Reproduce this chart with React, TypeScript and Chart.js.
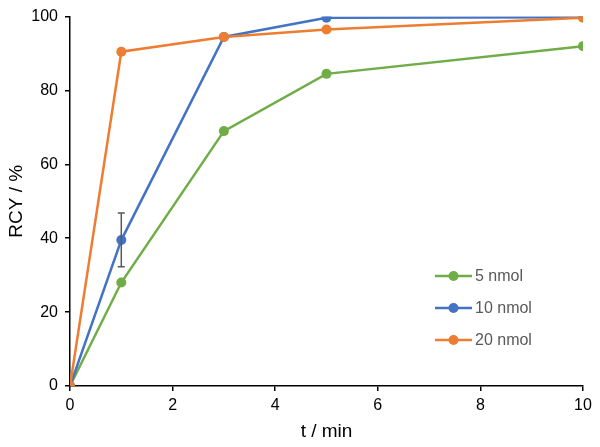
import React, { useEffect, useRef } from "react";
import { Chart, registerables } from "chart.js";

Chart.register(...registerables);

const timePoints = [0, 1, 3, 5, 10];
const series5 = [0, 28, 69, 84.5, 92];
const series10 = [0, 39.5, 94.5, 99.7, 99.8];
const series20 = [0, 90.5, 94.5, 96.5, 99.7];
const err10Low = [null, 32.3, null, null, null];
const err10High = [null, 46.8, null, null, null];
const seriesNames = ["5 nmol", "10 nmol", "20 nmol"];
const xTicks = [0, 2, 4, 6, 8, 10];
const yTicks = [0, 20, 40, 60, 80, 100];

const FONT = "'Liberation Sans', Arial, sans-serif";

const errorBarPlugin = {
  id: "errorBars",
  afterDatasetsDraw(chart: any) {
    const ctx = chart.ctx;
    const xs = chart.scales.x;
    const ys = chart.scales.y;
    ctx.save();
    ctx.strokeStyle = "#595959";
    ctx.lineWidth = 1.5;
    timePoints.forEach((t, i) => {
      const lo = err10Low[i];
      const hi = err10High[i];
      if (lo == null || hi == null) return;
      const px = xs.getPixelForValue(t);
      const pLo = ys.getPixelForValue(lo);
      const pHi = ys.getPixelForValue(hi);
      ctx.beginPath();
      ctx.moveTo(px, pLo);
      ctx.lineTo(px, pHi);
      ctx.moveTo(px - 3.5, pLo);
      ctx.lineTo(px + 3.5, pLo);
      ctx.moveTo(px - 3.5, pHi);
      ctx.lineTo(px + 3.5, pHi);
      ctx.stroke();
    });
    ctx.restore();
  },
};

const legendPlugin = {
  id: "customLegend",
  afterDraw(chart: any) {
    const ctx = chart.ctx;
    const ds = [...chart.data.datasets].sort((a: any, b: any) => a.legendIndex - b.legendIndex);
    ctx.save();
    ds.forEach((d: any, i: number) => {
      const y = 276 + i * 32;
      ctx.strokeStyle = d.borderColor;
      ctx.lineWidth = 2.5;
      ctx.beginPath();
      ctx.moveTo(435, y);
      ctx.lineTo(472, y);
      ctx.stroke();
      ctx.fillStyle = d.backgroundColor;
      ctx.beginPath();
      ctx.arc(453.5, y, 5, 0, Math.PI * 2);
      ctx.fill();
      ctx.fillStyle = "#595959";
      ctx.font = `16px ${FONT}`;
      ctx.textBaseline = "middle";
      ctx.textAlign = "left";
      ctx.fillText(d.label, 475, y + 1);
    });
    ctx.restore();
  },
};

export default function App() {
  const ref = useRef<HTMLCanvasElement>(null);
  useEffect(() => {
    if (!ref.current) return;
    const mk = (vals: number[], label: string, color: string, order: number, legendIndex: number) => ({
      label,
      data: timePoints.map((t, i) => ({ x: t, y: vals[i] })),
      borderColor: color,
      backgroundColor: color,
      borderWidth: 2.5,
      pointRadius: 5,
      pointHoverRadius: 5,
      pointBorderWidth: 0,
      tension: 0,
      order,
      legendIndex,
    });
    const chart = new Chart(ref.current, {
      type: "line",
      data: {
        datasets: [
          mk(series5, seriesNames[0], "#70AD47", 2, 0),
          mk(series10, seriesNames[1], "#4472C4", 1, 1),
          mk(series20, seriesNames[2], "#ED7D31", 0, 2),
        ] as any,
      },
      options: {
        animation: false,
        responsive: false,
        maintainAspectRatio: false,
        layout: { padding: { top: 16, right: 17, left: 0, bottom: 0 } },
        plugins: { legend: { display: false }, tooltip: { enabled: false } },
        scales: {
          x: {
            type: "linear",
            min: 0,
            max: 10,
            afterBuildTicks: (s: any) => {
              s.ticks = xTicks.map((v) => ({ value: v }));
            },
            afterFit: (s: any) => {
              s.height = 61;
            },
            grid: { display: true, drawOnChartArea: false, drawTicks: true, tickLength: 5, color: "#000", lineWidth: 1.5 },
            border: { display: true, color: "#000", width: 1.5 },
            ticks: { color: "#000", font: { family: FONT, size: 16 }, padding: 5 },
            title: { display: true, text: "t / min", color: "#000", font: { family: FONT, size: 19 }, padding: { top: 0, bottom: 4 } },
          },
          y: {
            type: "linear",
            min: 0,
            max: 100,
            afterBuildTicks: (s: any) => {
              s.ticks = yTicks.map((v) => ({ value: v }));
            },
            afterFit: (s: any) => {
              s.width = 70;
            },
            grid: { display: true, drawOnChartArea: false, drawTicks: true, tickLength: 5, color: "#000", lineWidth: 1.5 },
            border: { display: true, color: "#000", width: 1.5 },
            ticks: { color: "#000", font: { family: FONT, size: 16 }, padding: 7 },
            title: { display: true, text: "RCY / %", color: "#000", font: { family: FONT, size: 19 }, padding: { top: 5, bottom: 0 } },
          },
        },
      },
      plugins: [errorBarPlugin, legendPlugin],
    } as any);
    return () => chart.destroy();
  }, []);
  return (
    <div style={{ position: "fixed", left: 0, top: 0, width: 600, height: 447, background: "#fff" }}>
      <canvas ref={ref} width={600} height={447} style={{ width: 600, height: 447 }} />
    </div>
  );
}
